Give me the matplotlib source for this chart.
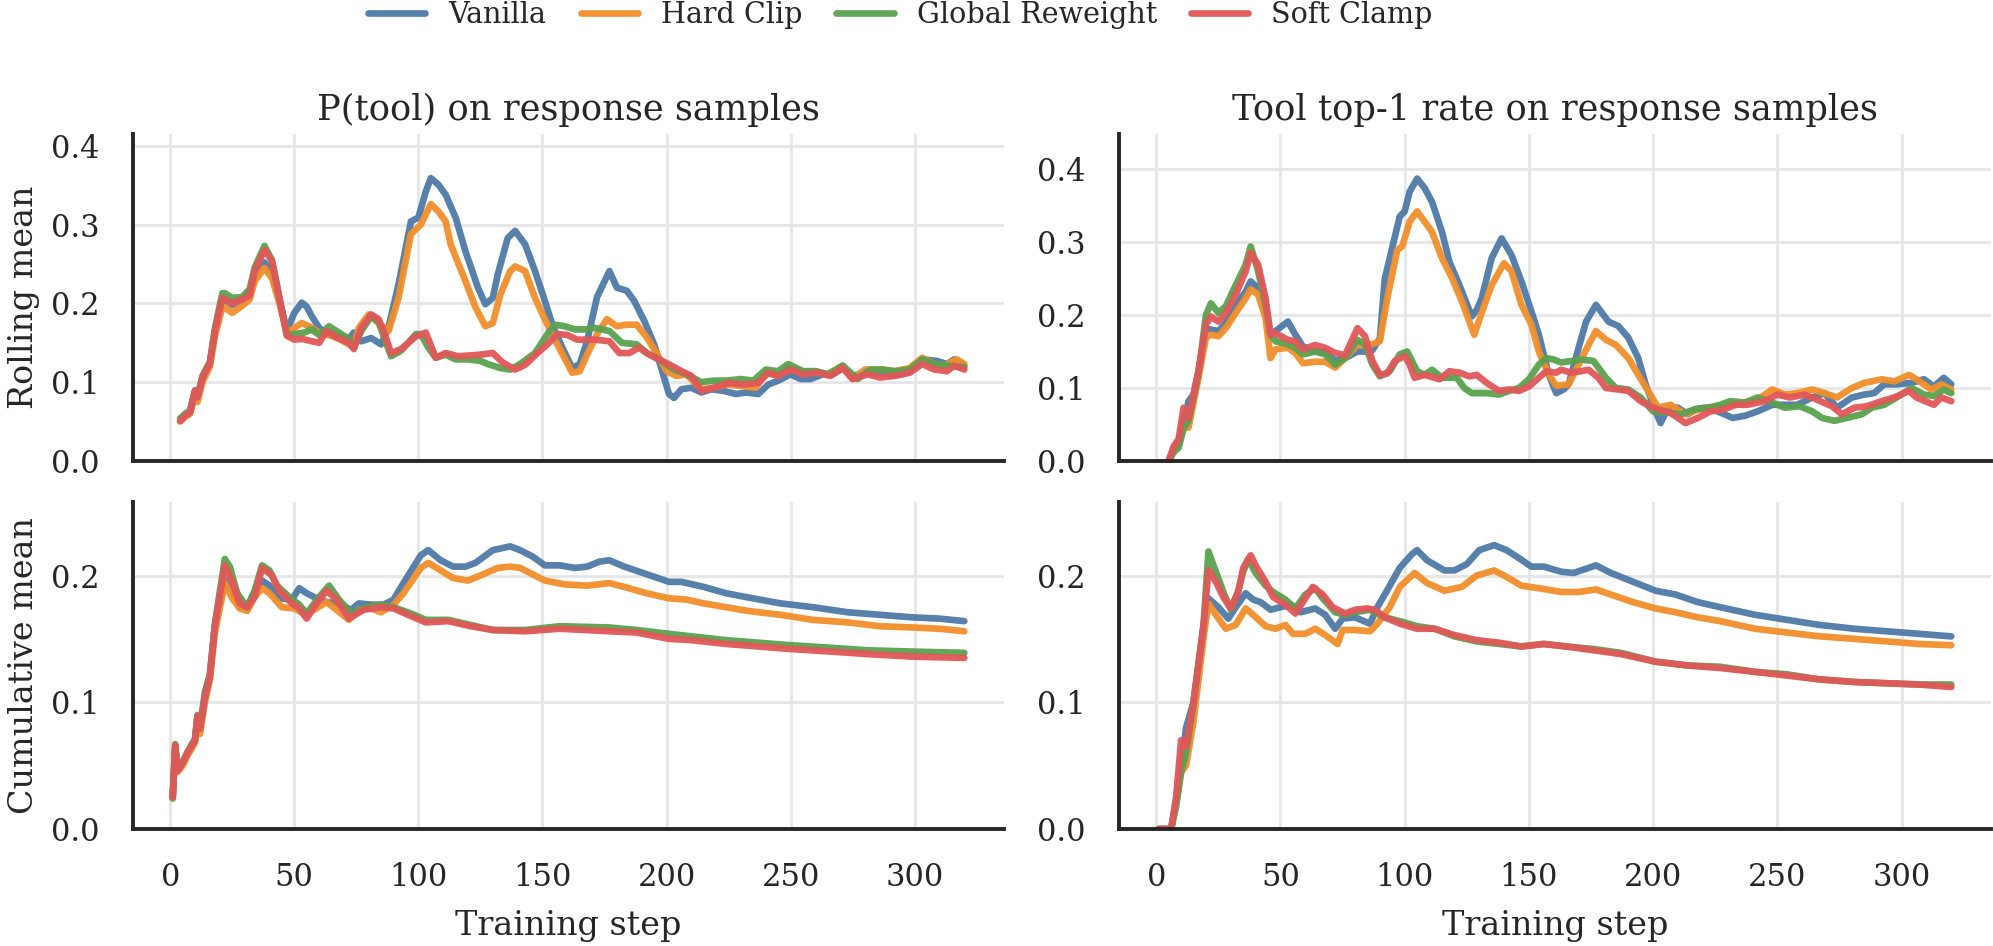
import matplotlib
matplotlib.use("Agg")
import matplotlib.pyplot as plt
import seaborn as sns

sns.set_theme(style="whitegrid", context="notebook")
plt.rcParams["font.family"] = ["DejaVu Serif"]

# ---------------- data ----------------
methods = ["Vanilla", "Hard Clip", "Global Reweight", "Soft Clamp"]
colors = ["#4e79a7", "#f28e2b", "#59a14f", "#e15759"]
panel_titles = ["P(tool) on response samples", "Tool top-1 rate on response samples"]
row_labels = ["Rolling mean", "Cumulative mean"]
x_ticks = [0, 50, 100, 150, 200, 250, 300]

# --- Rolling mean, P(tool) ---
roll_ptool_vanilla_x = [4, 6, 8, 10, 11, 13, 16, 18, 21, 22, 25, 29, 32, 34, 36, 38, 41, 44, 47, 50, 53, 55, 57, 60, 64, 68, 72, 74, 77, 81, 85, 88, 92, 97, 100, 103, 105, 108, 111, 115, 119, 124, 127, 130, 132, 136, 139, 143, 147, 151, 154, 158, 162, 165, 168, 172, 177, 180, 184, 187, 191, 195, 199, 201, 203, 206, 210, 214, 218, 223, 228, 232, 237, 241, 245, 250, 254, 258, 263, 267, 271, 275, 280, 285, 290, 295, 301, 303, 309, 313, 316, 320]
roll_ptool_vanilla_y = [0.052, 0.058, 0.062, 0.088, 0.080, 0.106, 0.124, 0.165, 0.205, 0.205, 0.198, 0.203, 0.215, 0.232, 0.245, 0.252, 0.240, 0.205, 0.165, 0.188, 0.201, 0.196, 0.184, 0.169, 0.160, 0.158, 0.155, 0.163, 0.152, 0.156, 0.148, 0.170, 0.224, 0.304, 0.309, 0.342, 0.359, 0.351, 0.338, 0.309, 0.266, 0.220, 0.199, 0.207, 0.237, 0.283, 0.292, 0.275, 0.241, 0.203, 0.173, 0.144, 0.118, 0.123, 0.152, 0.208, 0.241, 0.220, 0.216, 0.203, 0.178, 0.148, 0.106, 0.085, 0.080, 0.091, 0.093, 0.087, 0.091, 0.089, 0.085, 0.087, 0.085, 0.097, 0.102, 0.110, 0.104, 0.104, 0.110, 0.110, 0.118, 0.108, 0.112, 0.112, 0.110, 0.110, 0.121, 0.129, 0.127, 0.123, 0.129, 0.121]

roll_ptool_hardclip_x = [4, 6, 8, 10, 11, 13, 16, 18, 21, 22, 25, 29, 32, 34, 38, 41, 44, 47, 50, 53, 56, 60, 64, 68, 72, 74, 76, 80, 84, 88, 92, 97, 101, 105, 108, 111, 113, 119, 123, 127, 130, 133, 137, 139, 143, 147, 152, 156, 162, 165, 168, 172, 176, 180, 184, 188, 192, 196, 200, 204, 208, 214, 219, 224, 231, 236, 240, 245, 250, 255, 260, 265, 271, 275, 280, 287, 292, 298, 303, 308, 312, 317, 320]
roll_ptool_hardclip_y = [0.050, 0.056, 0.060, 0.082, 0.075, 0.100, 0.120, 0.158, 0.195, 0.195, 0.188, 0.197, 0.205, 0.228, 0.245, 0.232, 0.200, 0.162, 0.169, 0.175, 0.171, 0.163, 0.160, 0.155, 0.148, 0.146, 0.169, 0.186, 0.175, 0.165, 0.207, 0.288, 0.300, 0.326, 0.317, 0.304, 0.275, 0.228, 0.195, 0.171, 0.175, 0.211, 0.241, 0.247, 0.241, 0.207, 0.173, 0.148, 0.112, 0.114, 0.135, 0.161, 0.180, 0.171, 0.173, 0.173, 0.157, 0.137, 0.114, 0.108, 0.110, 0.091, 0.093, 0.097, 0.095, 0.093, 0.112, 0.108, 0.118, 0.112, 0.114, 0.110, 0.121, 0.104, 0.116, 0.116, 0.114, 0.118, 0.131, 0.123, 0.121, 0.129, 0.123]

roll_ptool_global_x = [4, 6, 8, 10, 11, 13, 16, 18, 21, 22, 25, 29, 32, 34, 38, 41, 44, 47, 50, 54, 57, 60, 64, 68, 72, 74, 77, 81, 84, 87, 89, 93, 99, 101, 104, 107, 111, 115, 120, 125, 128, 133, 137, 141, 147, 152, 155, 159, 163, 168, 171, 177, 182, 188, 192, 198, 203, 208, 214, 219, 224, 230, 235, 240, 245, 249, 255, 260, 265, 271, 277, 282, 287, 292, 298, 303, 308, 313, 320]
roll_ptool_global_y = [0.054, 0.060, 0.064, 0.090, 0.082, 0.108, 0.126, 0.168, 0.213, 0.213, 0.207, 0.208, 0.218, 0.245, 0.273, 0.255, 0.207, 0.160, 0.161, 0.163, 0.167, 0.160, 0.171, 0.163, 0.155, 0.144, 0.165, 0.184, 0.176, 0.150, 0.133, 0.140, 0.161, 0.161, 0.144, 0.131, 0.135, 0.129, 0.129, 0.127, 0.123, 0.118, 0.116, 0.123, 0.137, 0.161, 0.173, 0.171, 0.167, 0.167, 0.169, 0.165, 0.150, 0.148, 0.137, 0.127, 0.116, 0.110, 0.100, 0.102, 0.102, 0.104, 0.102, 0.116, 0.114, 0.123, 0.114, 0.114, 0.110, 0.121, 0.104, 0.116, 0.116, 0.114, 0.116, 0.129, 0.123, 0.121, 0.119]

roll_ptool_soft_x = [4, 6, 8, 10, 11, 13, 16, 18, 21, 22, 25, 29, 32, 34, 38, 41, 44, 47, 50, 53, 57, 60, 63, 67, 72, 74, 77, 81, 84, 87, 89, 93, 99, 103, 107, 111, 116, 121, 125, 130, 134, 139, 143, 148, 152, 156, 160, 164, 168, 171, 177, 181, 185, 189, 192, 197, 202, 206, 210, 214, 219, 225, 231, 237, 241, 245, 250, 255, 261, 266, 271, 275, 281, 286, 292, 298, 303, 308, 313, 316, 320]
roll_ptool_soft_y = [0.051, 0.057, 0.062, 0.089, 0.081, 0.106, 0.124, 0.165, 0.207, 0.205, 0.200, 0.205, 0.210, 0.241, 0.268, 0.254, 0.207, 0.159, 0.154, 0.155, 0.152, 0.150, 0.165, 0.157, 0.150, 0.142, 0.169, 0.186, 0.180, 0.156, 0.137, 0.142, 0.158, 0.163, 0.131, 0.137, 0.133, 0.134, 0.135, 0.137, 0.125, 0.116, 0.122, 0.137, 0.148, 0.161, 0.160, 0.154, 0.154, 0.154, 0.152, 0.137, 0.137, 0.144, 0.137, 0.129, 0.121, 0.114, 0.108, 0.089, 0.093, 0.099, 0.097, 0.099, 0.112, 0.108, 0.116, 0.110, 0.112, 0.108, 0.118, 0.104, 0.110, 0.106, 0.108, 0.112, 0.123, 0.116, 0.114, 0.121, 0.116]

# --- Rolling mean, tool top-1 rate ---
roll_top1_vanilla_x = [5, 7, 9, 11, 13, 15, 17, 20, 22, 25, 28, 32, 36, 38, 41, 44, 46, 48, 53, 56, 59, 64, 68, 72, 76, 81, 84, 87, 90, 92, 98, 100, 102, 105, 108, 111, 115, 118, 122, 127, 129, 131, 135, 139, 143, 147, 151, 154, 158, 161, 164, 166, 170, 173, 177, 182, 186, 190, 194, 197, 201, 203, 206, 210, 214, 217, 221, 226, 232, 237, 242, 248, 253, 258, 264, 269, 274, 280, 285, 289, 293, 298, 304, 309, 313, 317, 320]
roll_top1_vanilla_y = [0.0, 0.018, 0.028, 0.052, 0.082, 0.091, 0.123, 0.182, 0.180, 0.178, 0.189, 0.214, 0.232, 0.246, 0.237, 0.205, 0.173, 0.178, 0.191, 0.173, 0.157, 0.150, 0.150, 0.137, 0.141, 0.150, 0.150, 0.152, 0.168, 0.250, 0.335, 0.342, 0.369, 0.387, 0.374, 0.355, 0.314, 0.273, 0.241, 0.198, 0.207, 0.223, 0.278, 0.305, 0.282, 0.246, 0.205, 0.173, 0.118, 0.093, 0.098, 0.105, 0.155, 0.191, 0.214, 0.191, 0.185, 0.169, 0.141, 0.105, 0.068, 0.052, 0.073, 0.073, 0.064, 0.071, 0.073, 0.068, 0.059, 0.062, 0.068, 0.077, 0.077, 0.077, 0.087, 0.093, 0.073, 0.087, 0.091, 0.093, 0.105, 0.105, 0.107, 0.112, 0.102, 0.114, 0.105]

roll_top1_hardclip_x = [5, 7, 9, 11, 13, 15, 17, 20, 22, 25, 28, 32, 36, 38, 41, 44, 46, 48, 53, 56, 59, 64, 68, 72, 76, 81, 84, 87, 90, 93, 97, 99, 102, 105, 108, 111, 115, 119, 123, 127, 128, 131, 135, 140, 143, 147, 151, 154, 158, 161, 166, 170, 174, 177, 181, 185, 190, 194, 198, 202, 207, 213, 217, 221, 226, 231, 237, 242, 248, 253, 258, 264, 269, 274, 280, 285, 292, 297, 303, 306, 312, 316, 320]
roll_top1_hardclip_y = [0.0, 0.015, 0.025, 0.045, 0.046, 0.080, 0.114, 0.169, 0.173, 0.171, 0.182, 0.203, 0.223, 0.235, 0.228, 0.196, 0.141, 0.153, 0.155, 0.148, 0.134, 0.136, 0.136, 0.128, 0.141, 0.159, 0.159, 0.160, 0.164, 0.223, 0.289, 0.294, 0.328, 0.342, 0.328, 0.314, 0.278, 0.251, 0.219, 0.182, 0.173, 0.203, 0.241, 0.271, 0.260, 0.214, 0.187, 0.150, 0.118, 0.103, 0.105, 0.132, 0.159, 0.178, 0.166, 0.159, 0.141, 0.118, 0.096, 0.073, 0.077, 0.064, 0.069, 0.073, 0.073, 0.075, 0.080, 0.084, 0.098, 0.091, 0.093, 0.098, 0.093, 0.087, 0.100, 0.107, 0.112, 0.109, 0.118, 0.112, 0.098, 0.105, 0.098]

roll_top1_global_x = [5, 7, 9, 11, 13, 15, 17, 20, 22, 25, 28, 32, 36, 38, 41, 44, 46, 48, 53, 56, 59, 64, 68, 72, 76, 81, 84, 87, 90, 94, 98, 101, 105, 108, 111, 115, 121, 124, 127, 133, 138, 142, 146, 150, 154, 157, 160, 163, 167, 171, 176, 181, 185, 190, 195, 200, 206, 211, 217, 222, 227, 231, 237, 242, 248, 253, 259, 264, 268, 273, 278, 284, 288, 293, 298, 304, 309, 313, 317, 320]
roll_top1_global_y = [0.0, 0.012, 0.018, 0.045, 0.055, 0.088, 0.120, 0.200, 0.216, 0.203, 0.212, 0.241, 0.269, 0.294, 0.260, 0.215, 0.173, 0.164, 0.160, 0.155, 0.146, 0.150, 0.146, 0.132, 0.141, 0.166, 0.160, 0.132, 0.116, 0.123, 0.146, 0.150, 0.123, 0.118, 0.125, 0.114, 0.114, 0.100, 0.093, 0.093, 0.091, 0.096, 0.100, 0.112, 0.132, 0.141, 0.139, 0.135, 0.137, 0.139, 0.137, 0.114, 0.100, 0.098, 0.087, 0.068, 0.066, 0.064, 0.071, 0.073, 0.077, 0.082, 0.080, 0.087, 0.080, 0.073, 0.075, 0.068, 0.059, 0.055, 0.059, 0.064, 0.073, 0.077, 0.087, 0.100, 0.091, 0.089, 0.098, 0.093]

roll_top1_soft_x = [5, 7, 9, 11, 13, 15, 17, 20, 22, 25, 28, 32, 36, 38, 41, 44, 46, 48, 53, 56, 59, 64, 68, 72, 76, 81, 84, 87, 90, 93, 96, 100, 102, 104, 108, 114, 118, 122, 126, 129, 133, 138, 142, 146, 150, 154, 157, 161, 163, 167, 171, 174, 178, 181, 186, 190, 195, 200, 207, 213, 218, 223, 228, 233, 238, 245, 250, 255, 261, 266, 272, 276, 281, 286, 292, 297, 303, 306, 313, 316, 320]
roll_top1_soft_y = [0.0, 0.020, 0.030, 0.073, 0.059, 0.091, 0.123, 0.187, 0.198, 0.191, 0.203, 0.228, 0.260, 0.285, 0.269, 0.223, 0.173, 0.175, 0.166, 0.164, 0.153, 0.159, 0.155, 0.148, 0.145, 0.182, 0.171, 0.137, 0.118, 0.120, 0.137, 0.144, 0.132, 0.114, 0.118, 0.112, 0.123, 0.121, 0.116, 0.118, 0.107, 0.096, 0.098, 0.096, 0.102, 0.114, 0.123, 0.121, 0.125, 0.121, 0.123, 0.125, 0.114, 0.100, 0.098, 0.096, 0.082, 0.073, 0.066, 0.052, 0.059, 0.068, 0.070, 0.077, 0.077, 0.082, 0.091, 0.087, 0.091, 0.084, 0.075, 0.064, 0.073, 0.075, 0.082, 0.087, 0.096, 0.087, 0.077, 0.087, 0.082]

# --- Cumulative mean, P(tool) ---
cum_ptool_vanilla_x = [1, 2, 3, 5, 7, 10, 11, 12, 14, 16, 18, 22, 25, 28, 31, 34, 37, 40, 44, 49, 52, 55, 59, 63, 67, 73, 76, 81, 86, 90, 94, 101, 104, 109, 114, 119, 123, 130, 137, 141, 146, 151, 157, 163, 168, 173, 177, 183, 192, 201, 206, 215, 224, 232, 246, 259, 273, 286, 299, 310, 320]
cum_ptool_vanilla_y = [0.025, 0.064, 0.047, 0.052, 0.060, 0.071, 0.089, 0.080, 0.108, 0.122, 0.160, 0.196, 0.188, 0.176, 0.174, 0.187, 0.196, 0.192, 0.182, 0.181, 0.190, 0.186, 0.182, 0.179, 0.178, 0.173, 0.178, 0.177, 0.177, 0.181, 0.194, 0.216, 0.220, 0.212, 0.207, 0.207, 0.210, 0.220, 0.223, 0.220, 0.215, 0.208, 0.208, 0.206, 0.207, 0.211, 0.212, 0.207, 0.201, 0.195, 0.195, 0.191, 0.186, 0.183, 0.178, 0.175, 0.171, 0.169, 0.167, 0.166, 0.164]

cum_ptool_hardclip_x = [1, 2, 3, 5, 7, 10, 11, 12, 14, 16, 18, 22, 25, 28, 31, 34, 37, 40, 45, 50, 54, 58, 63, 67, 72, 76, 81, 85, 90, 94, 101, 104, 109, 114, 120, 125, 132, 137, 141, 145, 151, 159, 168, 177, 183, 192, 201, 208, 215, 224, 233, 246, 259, 273, 286, 299, 310, 320]
cum_ptool_hardclip_y = [0.025, 0.062, 0.045, 0.050, 0.058, 0.068, 0.084, 0.075, 0.100, 0.118, 0.155, 0.194, 0.182, 0.174, 0.172, 0.183, 0.190, 0.186, 0.175, 0.174, 0.170, 0.173, 0.179, 0.173, 0.165, 0.173, 0.174, 0.171, 0.177, 0.186, 0.206, 0.210, 0.204, 0.198, 0.196, 0.200, 0.206, 0.207, 0.206, 0.202, 0.196, 0.193, 0.192, 0.194, 0.191, 0.186, 0.182, 0.181, 0.178, 0.175, 0.172, 0.169, 0.165, 0.163, 0.160, 0.159, 0.158, 0.156]

cum_ptool_global_x = [1, 2, 3, 5, 7, 10, 11, 12, 14, 16, 18, 22, 24, 27, 31, 34, 37, 40, 43, 48, 52, 55, 60, 64, 68, 73, 79, 85, 90, 97, 103, 112, 121, 130, 143, 157, 177, 188, 201, 210, 224, 237, 250, 266, 281, 299, 320]
cum_ptool_global_y = [0.024, 0.067, 0.047, 0.053, 0.061, 0.071, 0.090, 0.080, 0.105, 0.122, 0.162, 0.213, 0.207, 0.186, 0.175, 0.188, 0.208, 0.204, 0.192, 0.183, 0.177, 0.170, 0.183, 0.192, 0.181, 0.170, 0.175, 0.177, 0.175, 0.170, 0.165, 0.165, 0.161, 0.157, 0.157, 0.160, 0.159, 0.157, 0.154, 0.152, 0.149, 0.147, 0.145, 0.143, 0.141, 0.140, 0.139]

cum_ptool_soft_x = [1, 2, 3, 5, 7, 10, 11, 12, 14, 16, 18, 22, 25, 28, 31, 34, 37, 41, 44, 49, 52, 55, 59, 63, 67, 72, 78, 85, 90, 97, 103, 112, 121, 130, 143, 157, 177, 188, 201, 210, 224, 237, 250, 266, 281, 299, 320]
cum_ptool_soft_y = [0.025, 0.066, 0.046, 0.052, 0.060, 0.070, 0.089, 0.079, 0.104, 0.120, 0.160, 0.208, 0.195, 0.178, 0.175, 0.183, 0.206, 0.200, 0.188, 0.178, 0.174, 0.166, 0.178, 0.188, 0.181, 0.166, 0.173, 0.175, 0.174, 0.168, 0.163, 0.164, 0.160, 0.157, 0.156, 0.158, 0.156, 0.155, 0.150, 0.149, 0.146, 0.144, 0.142, 0.140, 0.138, 0.136, 0.135]

# --- Cumulative mean, tool top-1 rate ---
cum_top1_vanilla_x = [1, 6, 8, 10, 12, 15, 19, 21, 25, 29, 32, 36, 39, 42, 46, 50, 54, 58, 64, 68, 72, 75, 80, 86, 89, 94, 98, 103, 105, 109, 116, 120, 125, 130, 136, 141, 145, 151, 156, 163, 168, 174, 177, 183, 192, 201, 209, 218, 227, 241, 254, 267, 281, 294, 307, 320]
cum_top1_vanilla_y = [0.0, 0.0, 0.023, 0.049, 0.080, 0.100, 0.160, 0.182, 0.175, 0.166, 0.175, 0.186, 0.181, 0.179, 0.173, 0.175, 0.177, 0.171, 0.174, 0.169, 0.158, 0.166, 0.167, 0.162, 0.175, 0.192, 0.206, 0.217, 0.220, 0.212, 0.204, 0.204, 0.209, 0.220, 0.224, 0.220, 0.215, 0.207, 0.207, 0.203, 0.202, 0.206, 0.208, 0.202, 0.195, 0.188, 0.185, 0.179, 0.175, 0.169, 0.165, 0.161, 0.158, 0.156, 0.154, 0.152]

cum_top1_hardclip_x = [1, 6, 8, 10, 12, 15, 19, 21, 24, 28, 32, 36, 39, 44, 48, 52, 55, 60, 64, 68, 73, 75, 80, 86, 89, 94, 98, 104, 109, 116, 123, 129, 136, 140, 147, 154, 163, 170, 177, 183, 192, 201, 209, 218, 227, 241, 254, 267, 281, 294, 307, 320]
cum_top1_hardclip_y = [0.0, 0.0, 0.020, 0.045, 0.050, 0.085, 0.150, 0.178, 0.169, 0.158, 0.161, 0.174, 0.169, 0.160, 0.158, 0.161, 0.154, 0.154, 0.158, 0.153, 0.146, 0.157, 0.157, 0.156, 0.162, 0.175, 0.191, 0.202, 0.194, 0.188, 0.191, 0.200, 0.204, 0.200, 0.192, 0.190, 0.187, 0.187, 0.189, 0.185, 0.179, 0.174, 0.171, 0.167, 0.164, 0.158, 0.155, 0.152, 0.150, 0.148, 0.146, 0.145]

cum_top1_global_x = [1, 6, 8, 10, 12, 15, 19, 21, 24, 27, 30, 33, 35, 37, 40, 44, 47, 52, 56, 60, 64, 67, 72, 76, 80, 86, 92, 98, 105, 112, 120, 129, 138, 147, 156, 165, 176, 187, 201, 214, 227, 241, 254, 267, 281, 294, 307, 320]
cum_top1_global_y = [0.0, 0.0, 0.018, 0.045, 0.060, 0.100, 0.160, 0.219, 0.203, 0.187, 0.173, 0.188, 0.203, 0.213, 0.202, 0.192, 0.187, 0.181, 0.174, 0.185, 0.190, 0.182, 0.171, 0.169, 0.171, 0.173, 0.167, 0.164, 0.160, 0.158, 0.152, 0.148, 0.146, 0.144, 0.146, 0.144, 0.142, 0.139, 0.132, 0.129, 0.128, 0.124, 0.122, 0.118, 0.116, 0.115, 0.114, 0.114]

cum_top1_soft_x = [1, 6, 8, 10, 12, 15, 19, 21, 24, 27, 30, 33, 35, 38, 40, 44, 47, 52, 56, 60, 63, 67, 71, 76, 80, 85, 88, 92, 98, 105, 112, 120, 129, 138, 147, 156, 165, 176, 187, 201, 214, 227, 241, 254, 267, 281, 294, 307, 320]
cum_top1_soft_y = [0.0, 0.0, 0.025, 0.070, 0.065, 0.100, 0.160, 0.204, 0.195, 0.183, 0.174, 0.187, 0.206, 0.216, 0.208, 0.195, 0.183, 0.177, 0.170, 0.182, 0.191, 0.185, 0.175, 0.170, 0.173, 0.174, 0.173, 0.167, 0.162, 0.158, 0.158, 0.153, 0.149, 0.147, 0.144, 0.146, 0.144, 0.141, 0.138, 0.132, 0.129, 0.127, 0.124, 0.121, 0.118, 0.116, 0.115, 0.114, 0.112]

panels = [
    [  # top row: rolling mean
        [(roll_ptool_vanilla_x, roll_ptool_vanilla_y), (roll_ptool_hardclip_x, roll_ptool_hardclip_y),
         (roll_ptool_global_x, roll_ptool_global_y), (roll_ptool_soft_x, roll_ptool_soft_y)],
        [(roll_top1_vanilla_x, roll_top1_vanilla_y), (roll_top1_hardclip_x, roll_top1_hardclip_y),
         (roll_top1_global_x, roll_top1_global_y), (roll_top1_soft_x, roll_top1_soft_y)],
    ],
    [  # bottom row: cumulative mean
        [(cum_ptool_vanilla_x, cum_ptool_vanilla_y), (cum_ptool_hardclip_x, cum_ptool_hardclip_y),
         (cum_ptool_global_x, cum_ptool_global_y), (cum_ptool_soft_x, cum_ptool_soft_y)],
        [(cum_top1_vanilla_x, cum_top1_vanilla_y), (cum_top1_hardclip_x, cum_top1_hardclip_y),
         (cum_top1_global_x, cum_top1_global_y), (cum_top1_soft_x, cum_top1_soft_y)],
    ],
]
y_tops = [[0.415, 0.448], [0.258, 0.258]]
y_ticks_rows = [[0.0, 0.1, 0.2, 0.3, 0.4], [0.0, 0.1, 0.2]]

# ---------------- figure ----------------
W, H, DPI = 1993, 946, 200
fig = plt.figure(figsize=(W / DPI, H / DPI), dpi=DPI)

col_left = [133 / W, 1119 / W]
col_width = [871 / W, 872 / W]
row_bottom = [1 - 461 / H, 1 - 829 / H]
row_height = [327 / H, 327 / H]

axes = [[None, None], [None, None]]
for c in range(2):
    for r in range(2):
        share = axes[0][c] if r == 1 else None
        ax = fig.add_axes([col_left[c], row_bottom[r], col_width[c], row_height[r]], sharex=share)
        axes[r][c] = ax

handles = []
for r in range(2):
    for c in range(2):
        ax = axes[r][c]
        for k, (xs, ys) in enumerate(panels[r][c]):
            ln, = ax.plot(xs, ys, color=colors[k], lw=2.4, alpha=0.95,
                          solid_capstyle="round", solid_joinstyle="round",
                          label=methods[k])
            if r == 0 and c == 0:
                handles.append(ln)
        ax.set_xlim(-15, 336)
        ax.set_ylim(0, y_tops[r][c])
        ax.set_yticks(y_ticks_rows[r])
        ax.set_xticks(x_ticks)
        ax.grid(True, color="#e6e6e6", lw=1.0)
        for s in ["top", "right"]:
            ax.spines[s].set_visible(False)
        for s in ["left", "bottom"]:
            ax.spines[s].set_color("#262626")
            ax.spines[s].set_linewidth(1.4)
        ax.tick_params(axis="both", length=0, pad=12, labelsize=11, colors="#262626")
        if r == 0:
            ax.tick_params(axis="x", labelbottom=False)
            ax.set_title(panel_titles[c], fontsize=12.7, color="#262626", pad=5)
        else:
            ax.set_xlabel("Training step", fontsize=12, color="#262626", labelpad=6)
        if c == 0:
            ax.set_ylabel(row_labels[r], fontsize=12, color="#262626", labelpad=4)

leg = fig.legend(handles=handles, labels=methods, loc="center",
                 bbox_to_anchor=(0.4518, 0.984), ncol=4, frameon=False,
                 fontsize=10.3, handlelength=2.0, handletextpad=0.8, columnspacing=1.2)
for lh in leg.get_lines():
    lh.set_linewidth(2.4)
    lh.set_solid_capstyle("round")

fig.savefig("out.png", dpi=DPI)
